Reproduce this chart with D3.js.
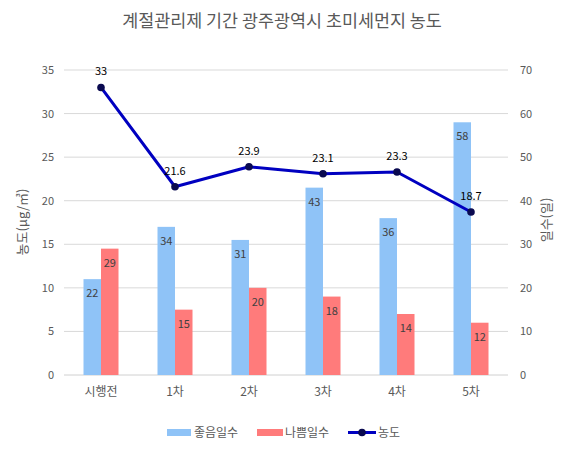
<!DOCTYPE html>
<html><head><meta charset="utf-8">
<script src="https://cdn.jsdelivr.net/npm/d3@7"></script>
<style>body{margin:0;background:#fff;font-family:"Noto Sans CJK KR","Noto Sans",sans-serif;}</style>
</head><body><svg id="c" width="566" height="450"></svg>
<script>
const categories = ["시행전","1차","2차","3차","4차","5차"];
const goodDays = [22,34,31,43,36,58];
const badDays = [29,15,20,18,14,12];
const concentration = [33,21.6,23.9,23.1,23.3,18.7];
const leftTicks = [0,5,10,15,20,25,30,35];
const rightTicks = [0,10,20,30,40,50,60,70];
const seriesNames = ["좋음일수","나쁨일수","농도"];

const svg = d3.select("#c");
const font = '"Noto Sans CJK KR","Noto Sans",sans-serif';
const L=64, R=508, T=70, B=375;
const x = d3.scaleBand().domain(categories).range([L,R]);
const yL = d3.scaleLinear().domain([0,35]).range([B,T]);
const yR = d3.scaleLinear().domain([0,70]).range([B,T]);
const bw = 17.5;

svg.append("text").attr("x",282).attr("y",27).attr("text-anchor","middle")
  .attr("font-size",17.4).attr("fill","#595959").attr("font-family",font)
  .text("계절관리제 기간 광주광역시 초미세먼지 농도");

// gridlines
svg.append("g").selectAll("line").data(leftTicks).join("line")
  .attr("x1",L).attr("x2",R).attr("y1",d=>yL(d)).attr("y2",d=>yL(d))
  .attr("stroke",d=>d===0?"#d0d0d0":"#d9d9d9").attr("stroke-width",1);

// left axis
const la = svg.append("g").attr("transform",`translate(${L},0)`)
  .call(d3.axisLeft(yL).tickValues(leftTicks).tickSize(0).tickPadding(10));
la.select(".domain").remove();
la.selectAll("text").attr("font-size",11).attr("fill","#595959").attr("font-family",font);

const ra = svg.append("g").attr("transform",`translate(${R},0)`)
  .call(d3.axisRight(yR).tickValues(rightTicks).tickSize(0).tickPadding(12));
ra.select(".domain").remove();
ra.selectAll("text").attr("font-size",11).attr("fill","#595959").attr("font-family",font);

const ba = svg.append("g").attr("transform",`translate(0,${B})`)
  .call(d3.axisBottom(x).tickSize(0).tickPadding(12));
ba.select(".domain").remove();
ba.selectAll("text").attr("font-size",12).attr("fill","#595959").attr("font-family",font);

// axis titles
svg.append("text").attr("transform",`translate(27,222) rotate(-90)`).attr("text-anchor","middle")
  .attr("font-size",13).attr("fill","#595959").attr("font-family",font).text("농도(μg/㎥)");
svg.append("text").attr("transform",`translate(551,220) rotate(-90)`).attr("text-anchor","middle")
  .attr("font-size",13).attr("fill","#595959").attr("font-family",font).text("일수(일)");

const blue="#8FC3F7", red="#FF7B7B", lineC="#0000C0", dot="#0A0A50";

// bars
svg.append("g").selectAll("rect").data(goodDays).join("rect")
  .attr("x",(d,i)=>x(categories[i])+x.bandwidth()/2-bw).attr("width",bw)
  .attr("y",d=>yR(d)).attr("height",d=>B-yR(d)).attr("fill",blue);
svg.append("g").selectAll("rect").data(badDays).join("rect")
  .attr("x",(d,i)=>x(categories[i])+x.bandwidth()/2).attr("width",bw)
  .attr("y",d=>yR(d)).attr("height",d=>B-yR(d)).attr("fill",red);

svg.append("g").selectAll("text").data(goodDays).join("text")
  .attr("x",(d,i)=>x(categories[i])+x.bandwidth()/2-bw/2).attr("y",d=>yR(d)+18)
  .attr("text-anchor","middle").attr("font-size",11).attr("fill","#404040").attr("font-family",font).text(d=>d);
svg.append("g").selectAll("text").data(badDays).join("text")
  .attr("x",(d,i)=>x(categories[i])+x.bandwidth()/2+bw/2).attr("y",d=>yR(d)+18)
  .attr("text-anchor","middle").attr("font-size",11).attr("fill","#404040").attr("font-family",font).text(d=>d);

// line
const cx = (d,i)=>x(categories[i])+x.bandwidth()/2;
svg.append("path").datum(concentration)
  .attr("d",d3.line().x(cx).y(d=>yL(d)))
  .attr("fill","none").attr("stroke",lineC).attr("stroke-width",3).attr("stroke-linejoin","round");
svg.append("g").selectAll("circle").data(concentration).join("circle")
  .attr("cx",cx).attr("cy",d=>yL(d)).attr("r",3.8).attr("fill",dot);
svg.append("g").selectAll("text").data(concentration).join("text")
  .attr("x",cx).attr("y",d=>yL(d)-12)
  .attr("text-anchor","middle").attr("font-size",11).attr("fill","#000").attr("font-family",font).text(d=>d);

// legend
const lg = svg.append("g").attr("font-family",font).attr("font-size",12).attr("fill","#595959");
lg.append("rect").attr("x",167).attr("y",429).attr("width",24).attr("height",7).attr("fill",blue);
lg.append("text").attr("x",194).attr("y",437).text(seriesNames[0]);
lg.append("rect").attr("x",257).attr("y",429).attr("width",26).attr("height",7).attr("fill",red);
lg.append("text").attr("x",285).attr("y",437).text(seriesNames[1]);
lg.append("line").attr("x1",348).attr("x2",376).attr("y1",432.5).attr("y2",432.5).attr("stroke",lineC).attr("stroke-width",3);
lg.append("circle").attr("cx",362).attr("cy",432.5).attr("r",3.8).attr("fill",dot);
lg.append("text").attr("x",378).attr("y",437).text(seriesNames[2]);
</script></body></html>
